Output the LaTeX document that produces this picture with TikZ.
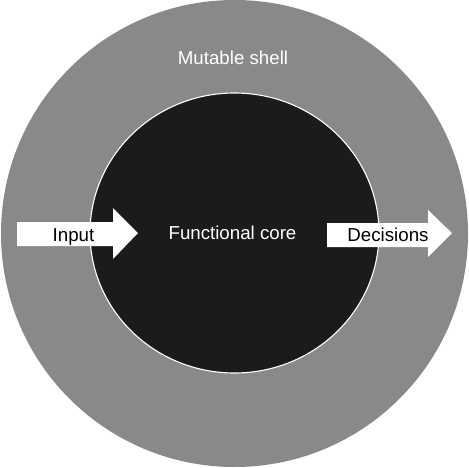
\documentclass[tikz,border=0pt]{standalone}
\usepackage{fontspec}
\setmainfont{Liberation Sans}
\definecolor{shellgray}{RGB}{136,137,139}
\definecolor{coreblack}{RGB}{26,27,29}
\begin{document}
\begin{tikzpicture}[x=1pt,y=-1pt,
  lbl/.style={font=\fontsize{18.7}{22}\selectfont, anchor=base, inner sep=0pt},
  arrowshape/.style={fill=white, draw=none}]
\useasboundingbox[fill=white] (0,0) rectangle (469,467);
% outer shell
\node[circle, fill=shellgray, minimum size=467pt, inner sep=0pt] (shell) at (234.5,233.5) {};
% inner core
\draw[fill=coreblack, draw=white, line width=1.1pt] (234.5,233) ellipse [x radius=144.5, y radius=140];
\coordinate (core) at (234.5,233);
% input arrow
\fill[arrowshape] (17,222) -- (113,222) -- (113,208) -- (138,233) -- (113,259) -- (113,246) -- (17,246) -- cycle;
% decisions arrow
\fill[arrowshape] (327,223) -- (428,223) -- (428,210) -- (452,233) -- (428,257) -- (428,247) -- (327,247) -- cycle;
% labels
\node[lbl, text=white] (shelllbl) at (233,64) {Mutable shell};
\node[lbl, text=white] (corelbl) at (232.5,239) {Functional core};
\node[lbl, text=black] (inputlbl) at (73.5,241) {Input};
\node[lbl, text=black] (declbl) at (388,241) {Decisions};
\end{tikzpicture}
\end{document}
